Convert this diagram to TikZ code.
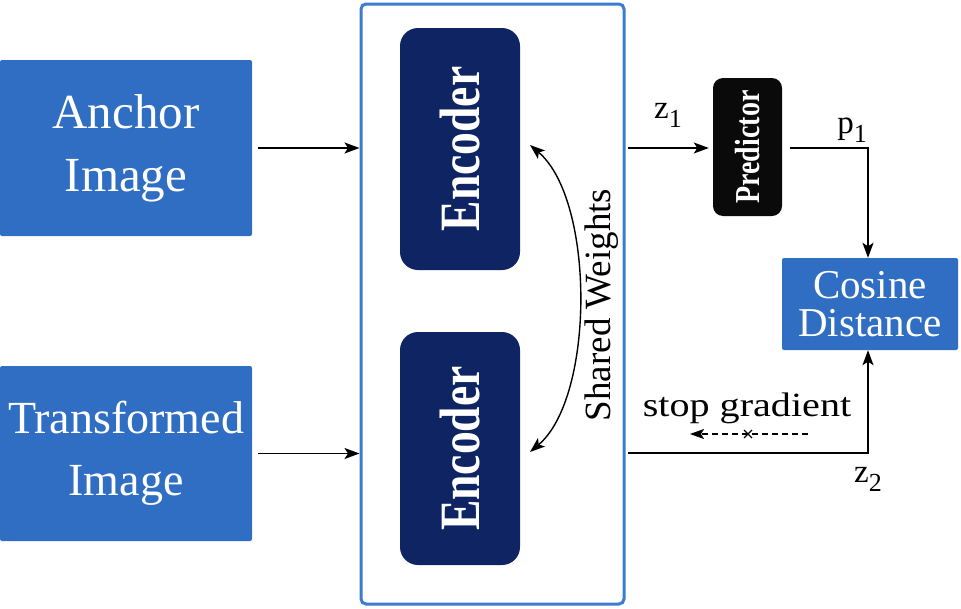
\documentclass[tikz,border=0pt]{standalone}
\usepackage{fontspec}
\setmainfont{Liberation Serif}
\usetikzlibrary{arrows.meta,calc}
\definecolor{boxblue}{HTML}{2F6EC3}
\definecolor{framblue}{HTML}{3A7CD0}
\definecolor{navy}{HTML}{0E2463}
\definecolor{predblack}{HTML}{0A0A0A}
\tikzset{
  bluebox/.style={fill=boxblue, draw=none, rounded corners=2pt, text=white, align=center, inner sep=0pt},
  encbox/.style={fill=navy, draw=none, rounded corners=18pt, text=white, minimum width=120pt},
  tip/.style={-{Stealth[length=15pt,width=11pt,inset=3.5pt]}},
  conn/.style={line width=1.6pt, tip},
  lbl/.style={inner sep=0pt, font=\fontsize{33}{36}\selectfont},
}
\newcommand{\subs}[1]{\raisebox{-9pt}{\fontsize{26}{28}\selectfont #1}}
\begin{document}
\begin{tikzpicture}[x=1pt,y=-1pt]
\useasboundingbox (0,0) rectangle (961,608);
% input boxes
\node[bluebox, minimum width=252pt, minimum height=176pt, font=\fontsize{49}{63}\selectfont] (anchor) at (126,148) {Anchor\\Image};
\node[bluebox, minimum width=252pt, minimum height=175pt, font=\fontsize{46}{62}\selectfont] (trans) at (126,453.5) {Transformed\\Image};
% container
\node[draw=framblue, line width=3pt, rounded corners=5pt, minimum width=263pt, minimum height=600pt, inner sep=0pt] (cont) at (492.5,304) {};
% encoders
\node[encbox, minimum height=242pt] (enc1) at (460,149) {\rotatebox{90}{\scalebox{0.8}[1]{\fontsize{57}{60}\selectfont\bfseries Encoder}}};
\node[encbox, minimum height=233pt] (enc2) at (460,448.5) {\rotatebox{90}{\scalebox{0.8}[1]{\fontsize{57}{60}\selectfont\bfseries Encoder}}};
% predictor
\node[fill=predblack, rounded corners=10pt, minimum width=69pt, minimum height=138pt, text=white, inner sep=0pt] (pred) at (747.5,147) {\rotatebox{90}{\scalebox{0.8}[1]{\fontsize{35}{38}\selectfont\bfseries Predictor}}};
% cosine distance
\node[bluebox, minimum width=176pt, minimum height=92pt, font=\fontsize{41}{38}\selectfont] (cos) at (870,304) {Cosine\\Distance};
% shared weights
\coordinate (swA) at (530,145);
\coordinate (swB) at (530,452);
\draw[line width=1.4pt, {Stealth[length=15pt,width=11pt,inset=3.5pt]}-{Stealth[length=15pt,width=11pt,inset=3.5pt]}] (swA) .. controls (595,200) and (595,397) .. (swB);
\node[inner sep=0pt] (swl) at (602,305) {\rotatebox{90}{\fontsize{37}{40}\selectfont Shared Weights}};
% input arrows
\draw[conn, shorten <=6pt] (anchor.east) -- (cont.west |- anchor.east);
\draw[conn, shorten <=6pt] (trans.east) -- (cont.west |- trans.east);
% z1
\draw[conn, shorten >=4pt] ($(cont.east |- anchor.east)+(2,0)$) -- (pred.west |- anchor.east);
\node[lbl] (z1) at (668,115) {z\subs{1}};
% p1
\coordinate (pcorner) at (868,148);
\draw[conn] ($(pred.east |- pcorner)+(8,0)$) -- (pcorner) -- (pcorner |- cos.north);
\node[lbl] (p1) at (852,130) {p\subs{1}};
% z2
\coordinate (zcorner) at (868,453);
\draw[conn] ($(cont.east |- zcorner)+(2,0)$) -- (zcorner) -- (zcorner |- cos.south);
\node[lbl] (z2) at (868,479) {z\subs{2}};
% stop gradient
\node[inner sep=0pt] (sg) at (747,408) {\scalebox{1.18}[1]{\fontsize{34}{36}\selectfont stop gradient}};
\coordinate (sgA) at (808,434);
\coordinate (sgB) at (690,434);
\draw[line width=1.3pt, dash pattern=on 6pt off 4pt, -{Stealth[length=14pt,width=10pt,inset=3pt]}] (sgA) -- (sgB);
\coordinate (sgX) at (748,434);
\draw[line width=1.2pt] ($(sgX)+(-4,-4)$) -- ($(sgX)+(4,4)$) ($(sgX)+(-4,4)$) -- ($(sgX)+(4,-4)$);
\end{tikzpicture}
\end{document}
